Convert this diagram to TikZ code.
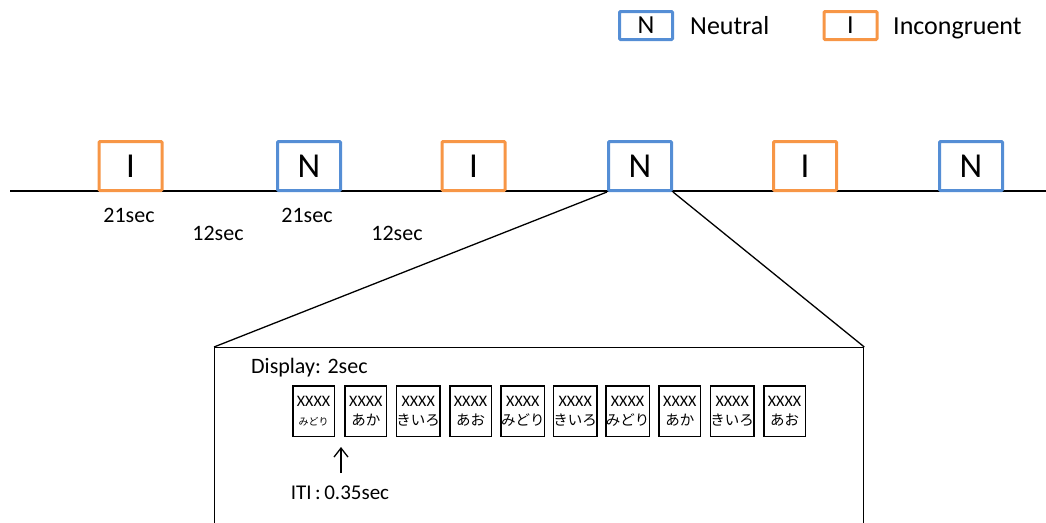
\documentclass[tikz,border=0pt]{standalone}
\usepackage{fontspec}
\setmainfont{Carlito}
\newfontfamily\jpfont{Noto Sans CJK JP}
\usetikzlibrary{arrows.meta}
\definecolor{neutralblue}{RGB}{85,142,213}
\definecolor{incongorange}{RGB}{247,150,70}
\newcommand\jpword[1]{{\jpfont\fontsize{14.5}{19}\selectfont #1}}
\newcommand\jpsmall[1]{{\jpfont\fontsize{10}{19}\selectfont #1}}

\begin{document}
\begin{tikzpicture}[x=1pt,y=-1pt,
 block/.style={draw,fill=white,line width=3pt,rounded corners=1pt,minimum width=63pt,
               minimum height=49pt,inner sep=0pt,font=\fontsize{35}{35}\selectfont},
 nblock/.style={block,draw=neutralblue},
 iblock/.style={block,draw=incongorange},
 key/.style={draw,line width=3pt,rounded corners=1pt,minimum width=53pt,minimum height=28pt,
             inner sep=0pt,font=\fontsize{26}{26}\selectfont},
 keytext/.style={anchor=base west,inner sep=0pt,font=\fontsize{26}{26}\selectfont},
 dur/.style={inner sep=0pt,font=\fontsize{22}{22}\selectfont},
 card/.style={draw,line width=1.5pt,minimum width=41.5pt,minimum height=50.5pt,inner sep=0pt,
              align=center,font=\fontsize{16}{19}\selectfont},
 thin/.style={line width=1.3pt},
 flow/.style={-{Straight Barb[length=9pt,width=14pt]},line width=1.3pt}]
\useasboundingbox (0,0) rectangle (1046,522);
\clip (0,0) rectangle (1046,522);

\node[key,draw=neutralblue] (keyn) at (646,25.5) {N};
\node[keytext] (keyntext) at (690,34) {Neutral};
\node[key,draw=incongorange] (keyi) at (850.5,25.5) {I};
\node[keytext] (keyitext) at (893,34) {Incongruent};

\coordinate (tlstart) at (10,191);
\coordinate (tlend) at (1046,191);
\draw[thin] (tlstart) -- (tlend);
\node[iblock] (blk1) at (130.5,166) {I};
\node[nblock] (blk2) at (309,166) {N};
\node[iblock] (blk3) at (473.5,166) {I};
\node[nblock] (blk4) at (640,166) {N};
\node[iblock] (blk5) at (805,166) {I};
\node[nblock] (blk6) at (971,166) {N};

\node[dur] (dur1) at (129,215) {21sec};
\node[dur] (rest1) at (218,233) {12sec};
\node[dur] (dur2) at (307,215) {21sec};
\node[dur] (rest2) at (397,233) {12sec};

\node[draw,thin,minimum width=649pt,minimum height=250pt,anchor=north west,inner sep=0pt] (zoom) at (214,347) {};
\draw[thin] (blk4.south west) -- (zoom.north west);
\draw[thin] (blk4.south east) -- (zoom.north east);

\node[dur,anchor=west] (display) at (251,368) {Display: 2sec};
\node[card] (card1) at (313.5,411) {XXXX\\\jpsmall{みどり}};
\node[card] (card2) at (365.8,411) {XXXX\\\jpword{あか}};
\node[card] (card3) at (418.2,411) {XXXX\\\jpword{きいろ}};
\node[card] (card4) at (470.5,411) {XXXX\\\jpword{あお}};
\node[card] (card5) at (522.8,411) {XXXX\\\jpword{みどり}};
\node[card] (card6) at (575.2,411) {XXXX\\\jpword{きいろ}};
\node[card] (card7) at (627.5,411) {XXXX\\\jpword{みどり}};
\node[card] (card8) at (679.8,411) {XXXX\\\jpword{あか}};
\node[card] (card9) at (732.2,411) {XXXX\\\jpword{きいろ}};
\node[card] (card10) at (784.5,411) {XXXX\\\jpword{あお}};

\coordinate (itibot) at (341,473);
\coordinate (ititop) at (341,447);
\draw[flow] (itibot) -- (ititop);
\node[dur,font=\fontsize{21}{21}\selectfont] (iti) at (340,493) {ITI\,:\,0.35sec};
\end{tikzpicture}
\end{document}
